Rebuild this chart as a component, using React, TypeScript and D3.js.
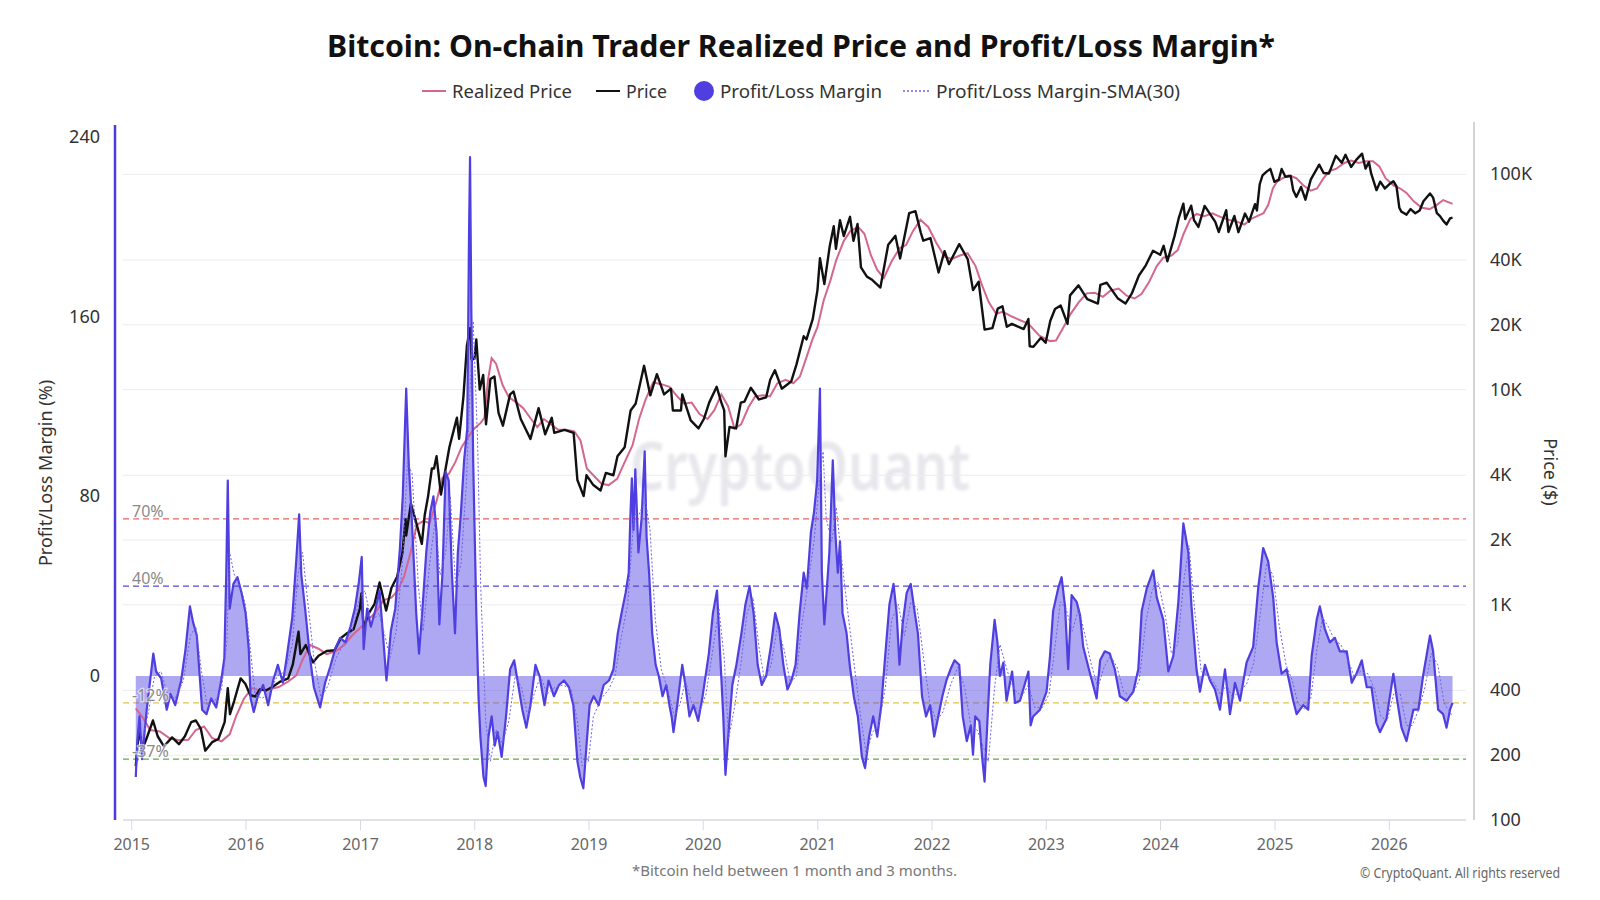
import React, { useEffect, useRef } from 'react';
import * as d3 from 'd3';

type Pt = [string, number];

const yearTicks = [2015, 2016, 2017, 2018, 2019, 2020, 2021, 2022, 2023, 2024, 2025, 2026];
const marginTicks = [0, 80, 160, 240];
const priceTicks = [100, 200, 400, 1000, 2000, 4000, 10000, 20000, 40000, 100000];
const levelValues = [70, 40, -12, -37];
const legendLabels = ['Realized Price', 'Price', 'Profit/Loss Margin', 'Profit/Loss Margin-SMA(30)'];

// BTC price ($)
const price: Pt[] = [
  ['2015-01-14', 178], ['2015-01-24', 260], ['2015-02-05', 215], ['2015-02-20', 245], ['2015-03-10', 290], ['2015-03-25', 245],
  ['2015-04-14', 220], ['2015-05-10', 242], ['2015-06-01', 225], ['2015-06-20', 245], ['2015-07-10', 285], ['2015-07-25', 290],
  ['2015-08-10', 265], ['2015-08-24', 210], ['2015-09-15', 230], ['2015-10-05', 238], ['2015-10-25', 285], ['2015-11-04', 410],
  ['2015-11-11', 310], ['2015-11-25', 360], ['2015-12-15', 455], ['2015-12-30', 430],
  ['2016-01-15', 380], ['2016-01-31', 375], ['2016-02-15', 405], ['2016-03-05', 400], ['2016-03-25', 415], ['2016-04-20', 440],
  ['2016-05-15', 455], ['2016-05-30', 530], ['2016-06-17', 750], ['2016-06-23', 590], ['2016-07-10', 650], ['2016-08-02', 540],
  ['2016-08-20', 580], ['2016-09-15', 610], ['2016-10-10', 615], ['2016-10-30', 700], ['2016-11-20', 740], ['2016-12-10', 770],
  ['2016-12-30', 960],
  ['2017-01-04', 1130], ['2017-01-11', 780], ['2017-01-25', 900], ['2017-02-15', 1010], ['2017-03-03', 1270], ['2017-03-24', 940],
  ['2017-04-10', 1200], ['2017-04-28', 1350], ['2017-05-15', 1750], ['2017-05-25', 2500], ['2017-05-27', 2100], ['2017-06-11', 2950],
  ['2017-06-25', 2500], ['2017-07-16', 1920], ['2017-07-25', 2600], ['2017-08-05', 3200], ['2017-08-17', 4300], ['2017-08-24', 4300],
  ['2017-09-01', 4900], ['2017-09-15', 3250], ['2017-09-30', 4300], ['2017-10-12', 5400], ['2017-10-20', 6000], ['2017-11-05', 7400],
  ['2017-11-12', 5900], ['2017-11-26', 9300], ['2017-12-07', 16000], ['2017-12-17', 19300], ['2017-12-22', 13800], ['2017-12-31', 13900],
  ['2018-01-06', 17100], ['2018-01-17', 10000], ['2018-01-28', 11700], ['2018-02-06', 6900], ['2018-02-20', 11200], ['2018-03-05', 11500],
  ['2018-03-18', 7800], ['2018-04-01', 6800], ['2018-04-24', 9500], ['2018-05-05', 9800], ['2018-05-28', 7300], ['2018-06-28', 5900],
  ['2018-07-24', 8200], ['2018-08-14', 6200], ['2018-09-04', 7400], ['2018-09-12', 6300], ['2018-10-15', 6500], ['2018-11-13', 6300],
  ['2018-11-25', 3800], ['2018-12-15', 3200], ['2018-12-24', 4000],
  ['2019-01-15', 3600], ['2019-02-07', 3400], ['2019-02-24', 4100], ['2019-03-20', 4000], ['2019-04-02', 4900], ['2019-04-25', 5400],
  ['2019-05-14', 8000], ['2019-05-30', 8600], ['2019-06-26', 12900], ['2019-07-16', 9400], ['2019-08-06', 11800], ['2019-08-29', 9500],
  ['2019-09-20', 10100], ['2019-09-26', 8000], ['2019-10-22', 8000], ['2019-10-26', 9500], ['2019-11-22', 7200], ['2019-12-17', 6600],
  ['2020-01-03', 7300], ['2020-01-20', 8700], ['2020-02-13', 10300], ['2020-02-28', 8700], ['2020-03-08', 8000], ['2020-03-12', 4900],
  ['2020-03-25', 6700], ['2020-04-15', 6600], ['2020-04-30', 8700], ['2020-05-12', 8800], ['2020-06-01', 10200], ['2020-06-27', 9000],
  ['2020-07-20', 9200], ['2020-08-02', 11100], ['2020-08-17', 12300], ['2020-09-08', 10100], ['2020-10-08', 10900], ['2020-10-25', 13100],
  ['2020-11-17', 17700], ['2020-11-26', 17100], ['2020-12-16', 21300], ['2020-12-31', 29000],
  ['2021-01-08', 40800], ['2021-01-22', 30900], ['2021-02-08', 46200], ['2021-02-21', 57400], ['2021-02-28', 45100], ['2021-03-13', 61200],
  ['2021-03-25', 51700], ['2021-04-14', 63500], ['2021-04-25', 49100], ['2021-05-08', 58800], ['2021-05-19', 37000], ['2021-06-07', 33500],
  ['2021-06-22', 32500], ['2021-07-20', 29800], ['2021-08-14', 47100], ['2021-09-06', 51800], ['2021-09-21', 40700], ['2021-10-20', 66000],
  ['2021-11-09', 67500], ['2021-11-26', 53700], ['2021-12-04', 49200], ['2021-12-27', 50600],
  ['2022-01-22', 35000], ['2022-02-10', 44000], ['2022-02-24', 38300], ['2022-03-29', 47400], ['2022-04-25', 40400], ['2022-05-12', 29000],
  ['2022-05-30', 31700], ['2022-06-18', 19000], ['2022-07-13', 19300], ['2022-07-30', 23800], ['2022-08-14', 24400], ['2022-08-28', 19600],
  ['2022-09-13', 20200], ['2022-10-21', 19100], ['2022-11-05', 21300], ['2022-11-09', 15900], ['2022-11-21', 15800], ['2022-12-15', 17400],
  ['2022-12-30', 16500],
  ['2023-01-14', 20900], ['2023-01-29', 23700], ['2023-02-16', 24600], ['2023-03-10', 20200], ['2023-03-18', 27400], ['2023-04-14', 30500],
  ['2023-05-12', 26300], ['2023-06-15', 25100], ['2023-06-23', 30700], ['2023-07-13', 31400], ['2023-08-17', 26600], ['2023-09-11', 25100],
  ['2023-10-01', 27900], ['2023-10-24', 33900], ['2023-11-15', 37800], ['2023-12-08', 44200], ['2023-12-31', 42300],
  ['2024-01-11', 46600], ['2024-01-23', 39500], ['2024-02-15', 51800], ['2024-02-28', 62400], ['2024-03-14', 73100], ['2024-03-20', 62000],
  ['2024-04-08', 71600], ['2024-04-17', 61300], ['2024-05-01', 57000], ['2024-05-21', 71400], ['2024-06-24', 60200], ['2024-07-05', 54000],
  ['2024-07-29', 68200], ['2024-08-05', 54000], ['2024-08-24', 64100], ['2024-09-06', 53900], ['2024-09-27', 65800], ['2024-10-10', 60300],
  ['2024-10-29', 72700], ['2024-11-04', 68000], ['2024-11-13', 90000], ['2024-11-22', 98900], ['2024-12-05', 103000], ['2024-12-17', 106100],
  ['2024-12-30', 92300],
  ['2025-01-13', 94500], ['2025-01-22', 106000], ['2025-02-03', 97500], ['2025-02-20', 98300], ['2025-02-28', 84300], ['2025-03-10', 78500],
  ['2025-03-25', 87500], ['2025-04-08', 76300], ['2025-04-25', 94600], ['2025-05-22', 111000], ['2025-06-05', 101500], ['2025-06-22', 100900],
  ['2025-07-14', 122000], ['2025-08-02', 113300], ['2025-08-14', 123300], ['2025-09-01', 108200], ['2025-09-18', 117100], ['2025-10-06', 124800],
  ['2025-10-17', 106400], ['2025-10-28', 114000], ['2025-11-04', 101000], ['2025-11-21', 84500], ['2025-12-03', 92500], ['2025-12-18', 86000],
  ['2026-01-05', 91000], ['2026-01-14', 93000], ['2026-01-24', 88000], ['2026-02-02', 70000], ['2026-02-09', 67000], ['2026-02-25', 65000],
  ['2026-03-10', 69000], ['2026-03-25', 66000], ['2026-04-08', 68000], ['2026-04-20', 75000], ['2026-05-11', 81500], ['2026-05-21', 78000],
  ['2026-06-02', 66000], ['2026-06-12', 64000], ['2026-06-22', 61000], ['2026-07-03', 58500], ['2026-07-14', 62500], ['2026-07-22', 63000],
];

// on-chain trader realized price ($)
const realized: Pt[] = [
  ['2015-01-14', 330], ['2015-02-05', 300], ['2015-03-01', 262], ['2015-04-01', 258], ['2015-05-01', 240], ['2015-06-01', 235],
  ['2015-07-01', 236], ['2015-07-25', 262], ['2015-08-20', 272], ['2015-09-15', 240], ['2015-10-15', 232], ['2015-11-10', 250],
  ['2015-12-01', 305], ['2015-12-25', 365],
  ['2016-01-20', 410], ['2016-02-15', 400], ['2016-03-15', 405], ['2016-04-15', 415], ['2016-05-15', 440], ['2016-06-10', 470],
  ['2016-07-01', 560], ['2016-07-25', 650], ['2016-08-20', 625], ['2016-09-15', 590], ['2016-10-15', 610], ['2016-11-10', 650],
  ['2016-12-05', 720], ['2016-12-31', 780],
  ['2017-01-25', 850], ['2017-02-20', 930], ['2017-03-15', 1050], ['2017-04-10', 1080], ['2017-05-01', 1170], ['2017-05-20', 1350],
  ['2017-06-10', 1750], ['2017-06-30', 2350], ['2017-07-20', 2450], ['2017-08-10', 2400], ['2017-08-31', 3000], ['2017-09-20', 3900],
  ['2017-10-10', 4050], ['2017-10-31', 4600], ['2017-11-20', 5400], ['2017-12-10', 6000], ['2017-12-31', 6600],
  ['2018-01-20', 7000], ['2018-02-01', 7400], ['2018-02-12', 11000], ['2018-02-24', 14000], ['2018-03-10', 13200], ['2018-03-31', 10500],
  ['2018-04-20', 9200], ['2018-05-15', 8700], ['2018-06-05', 8200], ['2018-06-30', 7300], ['2018-07-20', 6700], ['2018-08-10', 7300],
  ['2018-09-01', 6900], ['2018-09-25', 6500], ['2018-10-20', 6500], ['2018-11-15', 6400], ['2018-12-05', 5800], ['2018-12-25', 4300],
  ['2019-01-15', 4000], ['2019-02-10', 3650], ['2019-03-05', 3600], ['2019-04-01', 3850], ['2019-04-25', 4600], ['2019-05-20', 5500],
  ['2019-06-10', 7300], ['2019-07-01', 9000], ['2019-07-25', 10800], ['2019-08-20', 10600], ['2019-09-15', 10300], ['2019-10-10', 9300],
  ['2019-11-01', 8600], ['2019-11-25', 8700], ['2019-12-20', 7700],
  ['2020-01-15', 7300], ['2020-02-05', 8000], ['2020-02-28', 9500], ['2020-03-20', 8400], ['2020-04-10', 6600], ['2020-05-01', 6900],
  ['2020-05-25', 8300], ['2020-06-15', 9300], ['2020-07-10', 9400], ['2020-08-01', 9300], ['2020-08-25', 10700], ['2020-09-20', 11100],
  ['2020-10-15', 10700], ['2020-11-05', 11500], ['2020-11-25', 14000], ['2020-12-15', 17100], ['2020-12-31', 19500],
  ['2021-01-20', 26000], ['2021-02-10', 32000], ['2021-03-01', 40000], ['2021-03-25', 49000], ['2021-04-15', 54500], ['2021-05-10', 57000],
  ['2021-05-30', 53000], ['2021-06-20', 42000], ['2021-07-10', 36000], ['2021-07-31', 33000], ['2021-08-25', 39500], ['2021-09-20', 45500],
  ['2021-10-10', 47000], ['2021-11-01', 54500], ['2021-11-25', 61500], ['2021-12-20', 57000],
  ['2022-01-15', 48000], ['2022-02-10', 41500], ['2022-03-05', 40500], ['2022-03-31', 42000], ['2022-04-25', 43000], ['2022-05-20', 37500],
  ['2022-06-10', 30500], ['2022-07-01', 25500], ['2022-07-25', 22500], ['2022-08-15', 23000], ['2022-09-15', 21800], ['2022-11-05', 20200],
  ['2022-12-10', 17800],
  ['2023-01-13', 16800], ['2023-02-01', 16900], ['2023-02-25', 19500], ['2023-03-20', 22500], ['2023-04-15', 25500], ['2023-05-10', 28000],
  ['2023-06-05', 28200], ['2023-07-01', 27000], ['2023-07-25', 28800], ['2023-08-20', 29500], ['2023-09-15', 27300], ['2023-10-10', 26500],
  ['2023-11-01', 27800], ['2023-11-25', 31500], ['2023-12-20', 37500],
  ['2024-01-10', 41000], ['2024-02-05', 42000], ['2024-02-25', 44500], ['2024-03-15', 53000], ['2024-04-05', 62000], ['2024-04-25', 65500],
  ['2024-05-20', 64000], ['2024-06-15', 66000], ['2024-07-10', 63500], ['2024-08-05', 61500], ['2024-08-30', 60500], ['2024-09-25', 58500],
  ['2024-10-20', 62500], ['2024-11-10', 64500], ['2024-11-25', 66000], ['2024-12-10', 72000], ['2024-12-25', 86000],
  ['2025-01-06', 92000], ['2025-01-25', 96000], ['2025-02-15', 99000], ['2025-03-10', 96000], ['2025-04-01', 89000], ['2025-04-25', 84000],
  ['2025-05-15', 86000], ['2025-06-05', 96000], ['2025-06-25', 104000], ['2025-07-15', 106000], ['2025-08-10', 113000], ['2025-09-01', 116000],
  ['2025-09-25', 113000], ['2025-10-20', 115000], ['2025-11-10', 115000], ['2025-11-30', 109000], ['2025-12-20', 96000],
  ['2026-01-14', 89000], ['2026-02-05', 86000], ['2026-02-25', 82000], ['2026-03-20', 75000], ['2026-04-15', 70000], ['2026-05-10', 69000],
  ['2026-06-01', 72000], ['2026-06-22', 76000], ['2026-07-22', 73000],
];

// Profit/Loss margin (%)
const margin: Pt[] = [
  ['2015-01-14', -45], ['2015-01-19', -29], ['2015-01-26', -18], ['2015-02-03', -37], ['2015-02-18', -15], ['2015-03-11', 10],
  ['2015-03-20', 2], ['2015-04-05', -1], ['2015-04-23', -15], ['2015-05-05', -8], ['2015-05-20', -13], ['2015-06-08', -2],
  ['2015-06-22', 12], ['2015-07-06', 31], ['2015-07-16', 24], ['2015-07-28', 18], ['2015-08-14', -15], ['2015-08-28', -17],
  ['2015-09-12', -10], ['2015-09-28', -14], ['2015-10-14', -2], ['2015-10-24', 8], ['2015-10-30', 45], ['2015-11-04', 87],
  ['2015-11-10', 30], ['2015-11-22', 41], ['2015-12-05', 44], ['2015-12-18', 37], ['2015-12-31', 28],
  ['2016-01-10', 12], ['2016-01-16', -10], ['2016-01-26', -16], ['2016-02-08', -9], ['2016-02-25', -4], ['2016-03-12', -13],
  ['2016-03-28', -2], ['2016-04-12', 5], ['2016-04-28', -3], ['2016-05-10', 8], ['2016-05-28', 26], ['2016-06-10', 52],
  ['2016-06-19', 72], ['2016-06-26', 45], ['2016-07-08', 30], ['2016-07-24', 8], ['2016-08-05', -5], ['2016-08-25', -14],
  ['2016-09-10', -3], ['2016-09-26', 4], ['2016-10-12', 12], ['2016-10-28', 17], ['2016-11-14', 15], ['2016-11-30', 22],
  ['2016-12-14', 30], ['2016-12-27', 42],
  ['2017-01-05', 53], ['2017-01-11', 12], ['2017-01-22', 30], ['2017-02-03', 22], ['2017-02-15', 28], ['2017-03-03', 38],
  ['2017-03-14', 18], ['2017-03-25', -2], ['2017-04-08', 20], ['2017-04-22', 30], ['2017-05-07', 57], ['2017-05-16', 80],
  ['2017-05-27', 128], ['2017-06-04', 95], ['2017-06-12', 75], ['2017-06-18', 58], ['2017-06-28', 28], ['2017-07-07', 10],
  ['2017-07-17', 28], ['2017-07-30', 55], ['2017-08-12', 73], ['2017-08-22', 80], ['2017-09-01', 64], ['2017-09-10', 23],
  ['2017-09-20', 46], ['2017-09-30', 91], ['2017-10-10', 87], ['2017-10-20', 46], ['2017-10-30', 19], ['2017-11-08', 55],
  ['2017-11-18', 73], ['2017-11-28', 96], ['2017-12-08', 110], ['2017-12-14', 200], ['2017-12-17', 231], ['2017-12-21', 164],
  ['2017-12-27', 96],
  ['2018-01-06', 28], ['2018-01-13', -9], ['2018-01-19', -27], ['2018-01-29', -45], ['2018-02-05', -49], ['2018-02-14', -27],
  ['2018-02-24', -18], ['2018-03-06', -31], ['2018-03-15', -25], ['2018-03-28', -36], ['2018-04-11', -18], ['2018-04-24', 3],
  ['2018-05-07', 7], ['2018-05-20', -4], ['2018-06-02', -15], ['2018-06-15', -23], ['2018-06-28', -13], ['2018-07-14', 5],
  ['2018-07-27', 0], ['2018-08-12', -13], ['2018-08-25', -2], ['2018-09-11', -9], ['2018-09-27', -4], ['2018-10-13', -2],
  ['2018-10-29', -5], ['2018-11-12', -13], ['2018-11-25', -38], ['2018-12-04', -45], ['2018-12-14', -50], ['2018-12-24', -31],
  ['2019-01-03', -13], ['2019-01-16', -9], ['2019-02-01', -13], ['2019-02-17', -4], ['2019-03-06', -2], ['2019-03-20', 3],
  ['2019-04-03', 19], ['2019-04-15', 28], ['2019-04-28', 37], ['2019-05-08', 46], ['2019-05-13', 70], ['2019-05-18', 88],
  ['2019-05-23', 65], ['2019-05-29', 92], ['2019-06-08', 55], ['2019-06-18', 70], ['2019-06-28', 100], ['2019-07-04', 62],
  ['2019-07-12', 46], ['2019-07-22', 19], ['2019-08-02', 5], ['2019-08-12', 0], ['2019-08-24', -9], ['2019-09-05', -4],
  ['2019-09-15', -13], ['2019-09-22', -18], ['2019-09-28', -25], ['2019-10-10', -13], ['2019-10-26', 5], ['2019-11-05', -4],
  ['2019-11-18', -18], ['2019-12-01', -13], ['2019-12-16', -20], ['2019-12-30', -9],
  ['2020-01-19', 10], ['2020-02-01', 28], ['2020-02-14', 38], ['2020-02-24', 10], ['2020-03-05', -18], ['2020-03-12', -44],
  ['2020-03-21', -27], ['2020-04-03', -4], ['2020-04-16', 5], ['2020-05-02', 19], ['2020-05-15', 32], ['2020-05-28', 40],
  ['2020-06-10', 28], ['2020-06-23', 5], ['2020-07-06', -4], ['2020-07-20', 0], ['2020-08-05', 14], ['2020-08-18', 28],
  ['2020-08-31', 21], ['2020-09-13', 5], ['2020-09-26', -6], ['2020-10-09', -2], ['2020-10-22', 5], ['2020-11-04', 28],
  ['2020-11-17', 46], ['2020-11-27', 39], ['2020-12-10', 64], ['2020-12-20', 73], ['2020-12-30', 87],
  ['2021-01-08', 128], ['2021-01-14', 46], ['2021-01-22', 23], ['2021-02-07', 55], ['2021-02-18', 96], ['2021-02-26', 64],
  ['2021-03-06', 46], ['2021-03-13', 60], ['2021-03-21', 28], ['2021-04-03', 19], ['2021-04-13', 5], ['2021-04-26', -9],
  ['2021-05-09', -18], ['2021-05-22', -36], ['2021-06-01', -41], ['2021-06-14', -27], ['2021-06-27', -18], ['2021-07-10', -27],
  ['2021-07-23', -13], ['2021-08-05', 10], ['2021-08-18', 32], ['2021-08-31', 41], ['2021-09-10', 28], ['2021-09-19', 5],
  ['2021-09-29', 23], ['2021-10-12', 37], ['2021-10-25', 41], ['2021-11-07', 28], ['2021-11-17', 19], ['2021-11-30', -9],
  ['2021-12-13', -18], ['2021-12-26', -13],
  ['2022-01-08', -27], ['2022-01-21', -18], ['2022-02-03', -9], ['2022-02-16', -2], ['2022-03-01', 3], ['2022-03-14', 7],
  ['2022-03-29', 5], ['2022-04-09', -18], ['2022-04-22', -29], ['2022-05-05', -22], ['2022-05-12', -35], ['2022-05-19', -18],
  ['2022-06-01', -20], ['2022-06-10', -36], ['2022-06-18', -47], ['2022-06-27', -20], ['2022-07-06', 5], ['2022-07-20', 25],
  ['2022-07-29', 15], ['2022-08-06', 0], ['2022-08-17', 6], ['2022-08-27', -11], ['2022-09-14', 2], ['2022-09-23', -12],
  ['2022-10-09', -11], ['2022-11-05', 2], ['2022-11-12', -22], ['2022-11-20', -18], ['2022-12-12', -15],
  ['2023-01-02', -7], ['2023-01-13', 9], ['2023-01-23', 29], ['2023-02-08', 39], ['2023-02-19', 44], ['2023-03-02', 31],
  ['2023-03-12', 3], ['2023-03-23', 36], ['2023-04-08', 33], ['2023-04-19', 27], ['2023-04-29', 13], ['2023-05-21', 1],
  ['2023-06-11', -10], ['2023-06-22', 7], ['2023-07-07', 11], ['2023-07-23', 10], ['2023-08-08', 3], ['2023-08-24', -9],
  ['2023-09-15', -11], ['2023-10-06', -7], ['2023-10-22', 3], ['2023-11-02', 29], ['2023-11-18', 39], ['2023-12-09', 47],
  ['2023-12-20', 35],
  ['2024-01-10', 25], ['2024-01-26', 2], ['2024-02-11', 9], ['2024-02-27', 33], ['2024-03-14', 68], ['2024-03-30', 55],
  ['2024-04-09', 31], ['2024-04-25', 3], ['2024-05-06', -7], ['2024-05-22', 5], ['2024-06-07', -2], ['2024-06-23', -6],
  ['2024-07-09', -15], ['2024-07-25', 3], ['2024-08-10', -17], ['2024-08-26', -3], ['2024-09-11', -11], ['2024-10-02', 6],
  ['2024-10-23', 13], ['2024-11-08', 39], ['2024-11-24', 57], ['2024-12-10', 51], ['2024-12-26', 35],
  ['2025-01-06', 15], ['2025-01-22', 1], ['2025-02-07', 3], ['2025-02-28', -11], ['2025-03-11', -17], ['2025-04-01', -13],
  ['2025-04-17', -15], ['2025-04-28', 9], ['2025-05-14', 25], ['2025-05-24', 31], ['2025-06-09', 21], ['2025-06-25', 15],
  ['2025-07-11', 17], ['2025-07-27', 11], ['2025-08-18', 11], ['2025-09-03', -3], ['2025-09-18', 1], ['2025-10-05', 7],
  ['2025-10-21', -5], ['2025-11-05', -5], ['2025-11-21', -21], ['2025-12-02', -25], ['2025-12-23', -19],
  ['2026-01-14', 1], ['2026-01-24', -9], ['2026-02-09', -23], ['2026-02-25', -29], ['2026-03-19', -15], ['2026-04-04', -15],
  ['2026-04-20', 1], ['2026-05-11', 18], ['2026-05-21', 11], ['2026-06-06', -15], ['2026-06-22', -17], ['2026-07-03', -23],
  ['2026-07-14', -15], ['2026-07-22', -12],
];

// Profit/Loss margin SMA(30) (%)
const marginSma: Pt[] = [
  ['2015-01-20', -38], ['2015-02-05', -28], ['2015-02-25', -15], ['2015-03-15', 0], ['2015-04-05', 2], ['2015-04-25', -8],
  ['2015-05-20', -10], ['2015-06-15', -2], ['2015-07-08', 18], ['2015-07-25', 22], ['2015-08-12', 2], ['2015-08-30', -13],
  ['2015-09-20', -12], ['2015-10-15', -6], ['2015-11-01', 15], ['2015-11-10', 55], ['2015-11-25', 45], ['2015-12-10', 42],
  ['2015-12-30', 32],
  ['2016-01-15', 12], ['2016-01-30', -8], ['2016-02-20', -10], ['2016-03-15', -8], ['2016-04-10', 0], ['2016-05-05', 2],
  ['2016-05-28', 14], ['2016-06-15', 45], ['2016-06-30', 55], ['2016-07-15', 35], ['2016-08-05', 8], ['2016-08-28', -10],
  ['2016-09-20', -4], ['2016-10-15', 8], ['2016-11-10', 15], ['2016-12-05', 20], ['2016-12-30', 35],
  ['2017-01-15', 38], ['2017-02-05', 24], ['2017-03-01', 28], ['2017-03-20', 18], ['2017-04-05', 8], ['2017-04-25', 20],
  ['2017-05-15', 50], ['2017-05-31', 95], ['2017-06-15', 90], ['2017-07-05', 40], ['2017-07-20', 20], ['2017-08-10', 50],
  ['2017-08-28', 70], ['2017-09-12', 45], ['2017-09-30', 55], ['2017-10-15', 80], ['2017-11-01', 40], ['2017-11-18', 50],
  ['2017-12-05', 85], ['2017-12-18', 130], ['2017-12-27', 158],
  ['2018-01-10', 105], ['2018-01-20', 40], ['2018-02-05', -20], ['2018-02-20', -38], ['2018-03-10', -24], ['2018-03-30', -30],
  ['2018-04-20', -20], ['2018-05-10', 0], ['2018-05-30', -5], ['2018-06-20', -18], ['2018-07-10', -8], ['2018-07-30', 0],
  ['2018-08-20', -8], ['2018-09-15', -5], ['2018-10-10', -4], ['2018-11-05', -6], ['2018-11-25', -20], ['2018-12-10', -40],
  ['2018-12-30', -38],
  ['2019-01-15', -18], ['2019-02-10', -10], ['2019-03-05', -6], ['2019-03-25', 0], ['2019-04-15', 18], ['2019-05-05', 32],
  ['2019-05-25', 72], ['2019-06-10', 72], ['2019-06-30', 78], ['2019-07-15', 65], ['2019-08-01', 25], ['2019-08-20', 3],
  ['2019-09-10', -6], ['2019-10-01', -18], ['2019-10-20', -12], ['2019-11-05', -2], ['2019-11-25', -12], ['2019-12-20', -16],
  ['2020-01-10', -8], ['2020-02-01', 12], ['2020-02-20', 30], ['2020-03-08', 8], ['2020-03-22', -28], ['2020-04-10', -14],
  ['2020-04-30', 5], ['2020-05-20', 28], ['2020-06-08', 35], ['2020-06-28', 12], ['2020-07-15', -2], ['2020-08-05', 5],
  ['2020-08-25', 22], ['2020-09-15', 12], ['2020-10-05', -3], ['2020-10-25', 0], ['2020-11-10', 22], ['2020-11-30', 40],
  ['2020-12-20', 60],
  ['2021-01-05', 85], ['2021-01-18', 100], ['2021-01-28', 70], ['2021-02-15', 60], ['2021-03-01', 75], ['2021-03-20', 50],
  ['2021-04-10', 25], ['2021-04-30', 2], ['2021-05-20', -20], ['2021-06-05', -35], ['2021-06-25', -25], ['2021-07-15', -22],
  ['2021-08-05', -5], ['2021-08-25', 25], ['2021-09-15', 32], ['2021-10-05', 18], ['2021-10-25', 33], ['2021-11-15', 30],
  ['2021-12-05', 8], ['2021-12-25', -12],
  ['2022-01-15', -20], ['2022-02-05', -16], ['2022-03-01', -4], ['2022-03-25', 4], ['2022-04-15', -5], ['2022-05-05', -22],
  ['2022-05-25', -24], ['2022-06-15', -32], ['2022-06-30', -38], ['2022-07-20', -5], ['2022-08-06', 14], ['2022-08-30', 2],
  ['2022-09-20', -6], ['2022-10-15', -9], ['2022-11-05', -4], ['2022-11-25', -14], ['2022-12-20', -14],
  ['2023-01-10', -8], ['2023-01-28', 12], ['2023-02-15', 33], ['2023-03-05', 30], ['2023-03-25', 20], ['2023-04-15', 30],
  ['2023-05-05', 18], ['2023-05-25', 5], ['2023-06-15', -5], ['2023-07-05', 4], ['2023-07-25', 9], ['2023-08-15', 4],
  ['2023-09-05', -7], ['2023-09-30', -9], ['2023-10-25', -2], ['2023-11-15', 24], ['2023-12-05', 38], ['2023-12-25', 42],
  ['2024-01-15', 28], ['2024-02-05', 10], ['2024-02-25', 14], ['2024-03-15', 42], ['2024-04-01', 58], ['2024-04-20', 28],
  ['2024-05-10', 2], ['2024-06-01', 0], ['2024-06-20', -3], ['2024-07-10', -8], ['2024-07-30', -4], ['2024-08-20', -10],
  ['2024-09-10', -6], ['2024-10-01', -4], ['2024-10-25', 6], ['2024-11-15', 28], ['2024-12-05', 50], ['2024-12-25', 45],
  ['2025-01-15', 22], ['2025-02-05', 5], ['2025-02-25', -2], ['2025-03-15', -12], ['2025-04-05', -15], ['2025-04-25', -10],
  ['2025-05-15', 12], ['2025-06-02', 26], ['2025-06-20', 22], ['2025-07-10', 16], ['2025-07-30', 14], ['2025-08-20', 8],
  ['2025-09-10', 0], ['2025-10-01', 2], ['2025-10-25', 1], ['2025-11-15', -6], ['2025-12-05', -18], ['2025-12-25', -20],
  ['2026-01-15', -8], ['2026-02-05', -8], ['2026-02-25', -22], ['2026-03-15', -22], ['2026-04-05', -15], ['2026-04-25', -5],
  ['2026-05-15', 10], ['2026-06-05', 5], ['2026-06-25', -12], ['2026-07-22', -18],
];

const COLORS = {
  realized: '#d4668f',
  price: '#111111',
  margin: '#4f3fe0',
  sma: '#6f62ea',
  levels: ['#e8625e', '#5548d9', '#e3c24a', '#63a84a'],
};

const App: React.FC = () => {
  const svgRef = useRef<SVGSVGElement>(null);

  useEffect(() => {
    if (!svgRef.current) return;
    const svg = d3.select(svgRef.current);
    svg.selectAll('*').remove();

    const parse = d3.utcParse('%Y-%m-%d');
    const rows = (s: Pt[]) => s.map(([d, v]) => ({ d: parse(d) as Date, v }));

    const left = 123, right = 1466, top = 122, bottom = 820;

    const x = d3.scaleUtc()
      .domain([new Date(Date.UTC(2015, 0, 1)), new Date(Date.UTC(2026, 0, 1))])
      .range([131.7, 1389.3]);
    const yM = d3.scaleLinear().domain([0, 240]).range([676, 137]);
    const yP = d3.scaleLog().domain([100, 100000]).range([bottom, 174.4]);

    const defs = svg.append('defs');
    defs.append('clipPath').attr('id', 'plot-clip')
      .append('rect').attr('x', left).attr('y', top).attr('width', right - left).attr('height', bottom - top);
    defs.append('filter').attr('id', 'wm-blur')
      .append('feGaussianBlur').attr('stdDeviation', 1.6);

    // watermark
    svg.append('text')
      .attr('x', 630).attr('y', 490)
      .attr('textLength', 340).attr('lengthAdjust', 'spacingAndGlyphs')
      .style('font-size', '66px').style('font-weight', 600)
      .style('fill', '#c9c9d6').style('opacity', 0.45)
      .attr('filter', 'url(#wm-blur)')
      .text('CryptoQuant');

    // grid from price ticks
    svg.append('g').selectAll('line')
      .data(priceTicks.filter(t => t > 100))
      .join('line')
      .attr('x1', left).attr('x2', right)
      .attr('y1', d => yP(d)).attr('y2', d => yP(d))
      .style('stroke', '#ececf0').style('stroke-width', 1);

    // threshold lines
    svg.append('g').selectAll('line')
      .data(levelValues)
      .join('line')
      .attr('x1', left).attr('x2', right)
      .attr('y1', d => yM(d)).attr('y2', d => yM(d))
      .style('stroke', (_, i) => COLORS.levels[i])
      .style('stroke-width', 1.3)
      .style('stroke-dasharray', '6,4');

    const plot = svg.append('g').attr('clip-path', 'url(#plot-clip)');

    const mRows = rows(margin);
    const area = d3.area<{ d: Date; v: number }>()
      .x(p => x(p.d)).y0(yM(0)).y1(p => yM(p.v));
    plot.append('path')
      .datum(mRows)
      .attr('d', area)
      .style('fill', COLORS.margin).style('fill-opacity', 0.46);

    const line = (ys: (v: number) => number) => d3.line<{ d: Date; v: number }>()
      .x(p => x(p.d)).y(p => ys(p.v));

    plot.append('path')
      .datum(rows(realized))
      .attr('d', line(v => yP(v)))
      .style('fill', 'none').style('stroke', COLORS.realized).style('stroke-width', 2);

    plot.append('path')
      .datum(rows(price))
      .attr('d', line(v => yP(v)))
      .style('fill', 'none').style('stroke', COLORS.price).style('stroke-width', 2.4)
      .style('stroke-linejoin', 'round');

    plot.append('path')
      .datum(mRows)
      .attr('d', line(v => yM(v)))
      .style('fill', 'none').style('stroke', COLORS.margin).style('stroke-width', 2.2)
      .style('stroke-linejoin', 'round');

    plot.append('path')
      .datum(rows(marginSma))
      .attr('d', line(v => yM(v)))
      .style('fill', 'none').style('stroke', COLORS.sma).style('stroke-width', 1)
      .style('stroke-dasharray', '2,2');

    // threshold labels
    svg.append('g').selectAll('text')
      .data(levelValues)
      .join('text')
      .attr('x', 132).attr('y', d => yM(d) - 2)
      .style('font-size', '16px').style('fill', '#8a8a8a')
      .style('stroke', '#ffffff').style('stroke-width', 2.5).style('stroke-opacity', 0.6)
      .style('paint-order', 'stroke')
      .text(d => `${d}%`);

    // left axis
    svg.append('line')
      .attr('x1', 115).attr('x2', 115).attr('y1', 125).attr('y2', bottom)
      .style('stroke', '#4b3bdc').style('stroke-width', 2.5);
    svg.append('g').selectAll('text')
      .data(marginTicks)
      .join('text')
      .attr('x', 100).attr('y', d => yM(d) + 6)
      .attr('text-anchor', 'end')
      .style('font-size', '18px').style('fill', '#333')
      .text(d => d);
    svg.append('text')
      .attr('transform', 'translate(52,473) rotate(-90)')
      .attr('text-anchor', 'middle')
      .style('font-size', '18px').style('fill', '#333')
      .text('Profit/Loss Margin (%)');

    // right axis
    svg.append('line')
      .attr('x1', 1474).attr('x2', 1474).attr('y1', top).attr('y2', bottom)
      .style('stroke', '#d4d4d8').style('stroke-width', 2);
    const fmtPrice = (v: number) => (v >= 1000 ? `${v / 1000}K` : `${v}`);
    svg.append('g').selectAll('text')
      .data(priceTicks)
      .join('text')
      .attr('x', 1490).attr('y', d => yP(d) + 6)
      .style('font-size', '18px').style('fill', '#333')
      .text(d => fmtPrice(d));
    svg.append('text')
      .attr('transform', 'translate(1544,472) rotate(90)')
      .attr('text-anchor', 'middle')
      .style('font-size', '18px').style('fill', '#333')
      .text('Price ($)');

    // x axis
    svg.append('line')
      .attr('x1', left).attr('x2', right).attr('y1', bottom).attr('y2', bottom)
      .style('stroke', '#d6d9e0').style('stroke-width', 1.5);
    const years = yearTicks.map(yr => new Date(Date.UTC(yr, 0, 1)));
    svg.append('g').selectAll('line')
      .data(years)
      .join('line')
      .attr('x1', d => x(d)).attr('x2', d => x(d)).attr('y1', bottom).attr('y2', bottom + 10)
      .style('stroke', '#d6d9e0');
    svg.append('g').selectAll('text')
      .data(years)
      .join('text')
      .attr('x', d => x(d)).attr('y', 850)
      .attr('text-anchor', 'middle')
      .style('font-size', '16px').style('fill', '#666')
      .text(d => d3.utcFormat('%Y')(d));

    // title
    svg.append('text')
      .attr('x', 327).attr('y', 57)
      .attr('textLength', 948).attr('lengthAdjust', 'spacingAndGlyphs')
      .style('font-size', '31px').style('font-weight', 700).style('fill', '#111')
      .text('Bitcoin: On-chain Trader Realized Price and Profit/Loss Margin*');

    // legend
    const lg = svg.append('g');
    const ly = 91;
    lg.append('line').attr('x1', 422).attr('x2', 446).attr('y1', ly).attr('y2', ly)
      .style('stroke', COLORS.realized).style('stroke-width', 2);
    lg.append('line').attr('x1', 596).attr('x2', 620).attr('y1', ly).attr('y2', ly)
      .style('stroke', COLORS.price).style('stroke-width', 2);
    lg.append('circle').attr('cx', 704).attr('cy', ly).attr('r', 10)
      .style('fill', COLORS.margin);
    lg.append('line').attr('x1', 903).attr('x2', 929).attr('y1', ly).attr('y2', ly)
      .style('stroke', COLORS.sma).style('stroke-width', 1.5).style('stroke-dasharray', '2,2');
    const legendX = [452, 626, 720, 936];
    const legendW = [120, 41, 162, 244];
    lg.selectAll('text.lab')
      .data(legendLabels)
      .join('text')
      .attr('class', 'lab')
      .attr('x', (_, i) => legendX[i]).attr('y', ly + 6.5)
      .attr('textLength', (_, i) => legendW[i]).attr('lengthAdjust', 'spacingAndGlyphs')
      .style('font-size', '18px').style('fill', '#333')
      .text(d => d);

    // footer
    svg.append('text')
      .attr('x', 632).attr('y', 876)
      .attr('textLength', 325).attr('lengthAdjust', 'spacingAndGlyphs')
      .style('font-size', '15px').style('fill', '#777')
      .text('*Bitcoin held between 1 month and 3 months.');
    svg.append('text')
      .attr('x', 1360).attr('y', 878)
      .attr('textLength', 200).attr('lengthAdjust', 'spacingAndGlyphs')
      .style('font-size', '14px').style('fill', '#666')
      .text('\u00A9 CryptoQuant. All rights reserved');
  }, []);

  return (
    <svg
      ref={svgRef}
      width={1600}
      height={900}
      style={{ position: 'absolute', left: 0, top: 0, background: '#fff', fontFamily: '"Noto Sans", sans-serif' }}
    />
  );
};

export default App;
